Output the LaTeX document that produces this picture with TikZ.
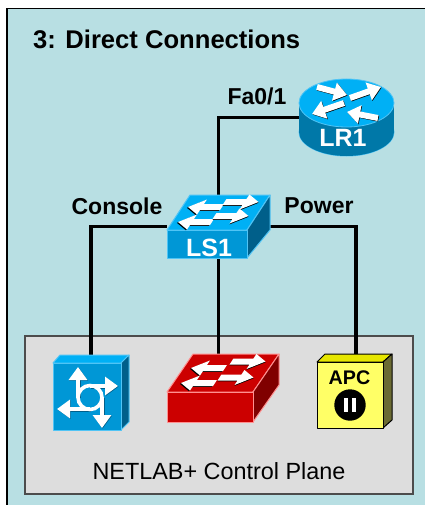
\documentclass[tikz,border=0pt]{standalone}
\usepackage{fontspec}
\setmainfont{Liberation Sans}
\usetikzlibrary{arrows.meta}
\pgfdeclarelayer{bg}\pgfdeclarelayer{wires}
\pgfsetlayers{bg,wires,main}
\definecolor{panel}{HTML}{B8DFE3}
\definecolor{plane}{HTML}{DDDDDD}
\definecolor{bluetop}{HTML}{00B0F5}
\definecolor{bluefront}{HTML}{0097D6}
\definecolor{blueside}{HTML}{005F8A}
\definecolor{routerside}{HTML}{0078A8}
\definecolor{blueedge}{HTML}{50C4F5}
\definecolor{redfront}{HTML}{CC0000}
\definecolor{redside}{HTML}{800000}
\definecolor{rededge}{HTML}{FF9090}
\definecolor{apcfront}{HTML}{FFFF66}
\definecolor{apctop}{HTML}{E6E600}
\definecolor{apcside}{HTML}{6B6B33}
\tikzset{
  wire/.style={draw=black,line width=3.3pt},
  anchorbox/.style={inner sep=0pt,outer sep=0pt,minimum width=#1},
  portlabel/.style={font=\fontsize{23}{26}\selectfont\bfseries,text=black,inner sep=0pt},
  iconlabel/.style={font=\fontsize{25}{28}\selectfont\bfseries,text=white,inner sep=0pt},
  blueface/.style={draw=blueedge,line width=1pt,line join=round},
  redface/.style={draw=rededge,line width=1pt,line join=round},
  apcface/.style={draw=black,line width=1pt,line join=round},
  bigarrow/.style={white,line width=#1,-{Triangle[length=13pt,width=18pt]}},
  arrowshadow/.style={black,line width=#1,-{Triangle[length=13pt,width=18pt]},xshift=.6pt,yshift=-.6pt},
  cubeshadow/.style={blueside,line width=#1,-{Triangle[length=13pt,width=18pt]},xshift=.6pt,yshift=-.6pt}
}
% flat arrow lying on the slanted top of a switch
\newcommand{\flatarrow}[3]{%
  \begin{scope}[shift={(#1,#2)},xslant=0.66,xscale=#3]
    \fill[black,xshift=.6pt,yshift=-.8pt] (-17,-3) -- (3,-3) -- (3,-7.5) -- (17,0) -- (3,7.5) -- (3,3) -- (-17,3) -- cycle;
    \fill[white] (-17,-3) -- (3,-3) -- (3,-7.5) -- (17,0) -- (3,7.5) -- (3,3) -- (-17,3) -- cycle;
  \end{scope}}
\newcommand{\routerarrow}[2]{%
  \draw[arrowshadow=6pt] (#1) -- (#2);
  \draw[bigarrow=6pt] (#1) -- (#2);}
\begin{document}
\begin{tikzpicture}[x=1pt,y=-1pt]
\useasboundingbox (0,0) rectangle (425,505);
\begin{pgfonlayer}{bg}
  \fill[white] (0,0) rectangle (425,505);
  \fill[panel] (7,8.5) rectangle (425,505);
  \draw[black,line width=1.6pt] (7,505) -- (7,8.5) -- (425,8.5);
  \draw[draw=black!70,fill=plane,line width=1.2pt] (25,336) rectangle (413,494);
\end{pgfonlayer}

% anchor boxes of the devices
\node[anchorbox=95pt,minimum height=77pt] (LR1) at (346.5,117.5) {};
\node[anchorbox=103pt,minimum height=63pt] (LS1) at (218.5,226.5) {};
\node[anchorbox=76pt,minimum height=75pt] (CP) at (91,392.5) {};
\node[anchorbox=112pt,minimum height=68pt] (RS) at (218.5,388) {};
\node[anchorbox=72pt,minimum height=74pt] (APC) at (356,391) {};

\begin{pgfonlayer}{wires}
  \draw[wire] (LR1.west) -| (LS1.north);
  \draw[wire] (LS1.south) -- (RS.north);
  \draw[wire] (LS1.west) -| (CP.north);
  \draw[wire] (LS1.east) -| (APC.north);
\end{pgfonlayer}

% router LR1
\fill[blueedge] (346.5,132) ellipse [x radius=48pt,y radius=24.5pt];
\fill[routerside] (346.5,132) ellipse [x radius=47.5pt,y radius=24pt];
\fill[routerside] (299,103) rectangle (394,132);
\filldraw[fill=bluetop,draw=blueedge,line width=.8pt] (346.5,103) ellipse [x radius=47.5pt,y radius=24pt];
\routerarrow{317,87}{347,95}
\routerarrow{350,98}{381,87}
\routerarrow{344,103}{312,114}
\routerarrow{378,118}{347,112}
\node[iconlabel] (LR1text) at (343,138) {LR1};

% switch LS1
\filldraw[blueface,fill=bluetop] (167,230) -- (190,195) -- (270,195) -- (247,230) -- cycle;
\filldraw[blueface,fill=blueside] (247,230) -- (270,195) -- (270,230) -- (247,258) -- cycle;
\filldraw[blueface,fill=bluefront] (167,230) rectangle (247,258);
\flatarrow{205}{207}{-1}
\flatarrow{241.5}{202}{1}
\flatarrow{195}{222}{-1}
\flatarrow{231.5}{216}{1}
\node[iconlabel] (LS1text) at (209,248) {LS1};

% control plane: blue cube
\filldraw[blueface,fill=bluetop] (53,363) -- (60,355) -- (129,355) -- (121,363) -- cycle;
\filldraw[blueface,fill=blueside] (121,363) -- (129,355) -- (129,422) -- (121,430) -- cycle;
\filldraw[blueface,fill=bluefront] (53,363) rectangle (121,430);
\draw[cubeshadow=4pt] (78,397) -- (78,367);
\draw[cubeshadow=4pt] (90,386) -- (118,386);
\draw[cubeshadow=4pt] (102,397) -- (102,428);
\draw[cubeshadow=4pt] (90,409) -- (57,409);
\draw[bigarrow=4pt] (78,397) -- (78,367);
\draw[bigarrow=4pt] (90,386) -- (118,386);
\draw[bigarrow=4pt] (102,397) -- (102,428);
\draw[bigarrow=4pt] (90,409) -- (57,409);
\draw[white,line width=3.6pt] (90,397.5) circle [radius=12pt];

% control plane: red switch
\filldraw[redface,fill=redfront] (167,392) -- (193,354) -- (279,354) -- (253,392) -- cycle;
\filldraw[redface,fill=redside] (253,392) -- (279,354) -- (279,385) -- (253,422) -- cycle;
\filldraw[redface,fill=redfront] (167,392) rectangle (253,422);
\flatarrow{208}{368}{-1}
\flatarrow{248.5}{361.5}{1}
\flatarrow{198}{383}{-1}
\flatarrow{236.5}{377.5}{1}

% control plane: APC
\filldraw[apcface,fill=apctop] (317,362) -- (325,354) -- (392,354) -- (383,362) -- cycle;
\filldraw[apcface,fill=apcside] (383,362) -- (392,354) -- (392,420) -- (383,428) -- cycle;
\filldraw[apcface,fill=apcfront] (317,362) rectangle (383,428);
\node[font=\fontsize{19.7}{22}\selectfont\bfseries,text=black,inner sep=0pt] (APCtext) at (349.5,378) {APC};
\fill[black] (350,405) circle [radius=15.7pt];
\fill[white] (344,398) rectangle (348,412);
\fill[white] (351.5,398) rectangle (355.5,412);

% texts
\node[anchor=west,inner sep=0pt,font=\fontsize{25.6}{28}\selectfont\bfseries] (title) at (33,39.5) {3: Direct Connections};
\node[portlabel] (fa) at (257,96) {Fa0/1};
\node[portlabel] (console) at (117,206) {Console};
\node[portlabel] (power) at (319,206) {Power};
\node[inner sep=0pt,font=\fontsize{23.4}{26}\selectfont] (planelabel) at (219,471) {NETLAB+ Control Plane};
\end{tikzpicture}
\end{document}
